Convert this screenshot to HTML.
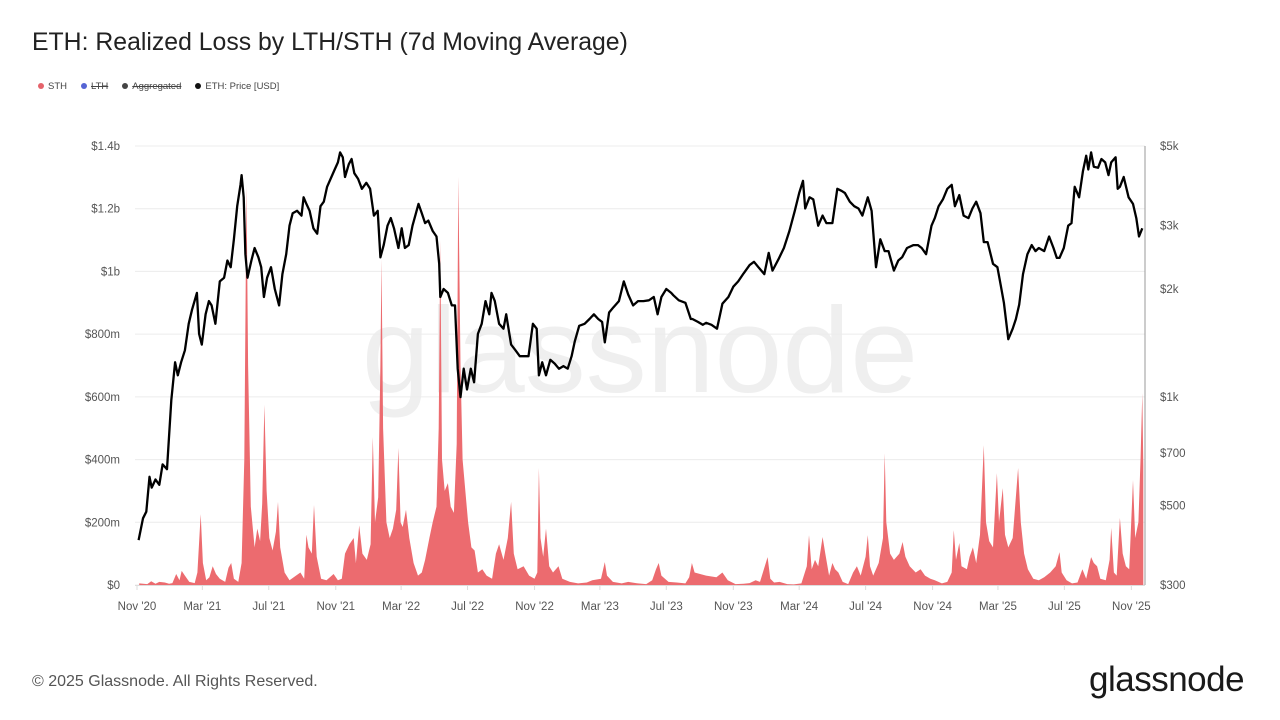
<!DOCTYPE html>
<html><head><meta charset="utf-8"><style>
html,body{margin:0;padding:0;background:#fff;}
body{width:1280px;height:720px;overflow:hidden;position:relative;font-family:"Liberation Sans",sans-serif;}
.t{position:absolute;white-space:nowrap;}
</style></head><body>
<div class="t" style="left:32px;top:29px;font-size:24.8px;color:#222;">ETH: Realized Loss by LTH/STH (7d Moving Average)</div>
<div style="position:absolute;left:38px;top:81px;font-size:9.5px;color:#444;display:flex;gap:14px;align-items:center;">
 <span><span style="display:inline-block;width:6px;height:6px;border-radius:3px;background:#e5636b;margin-right:4px;"></span>STH</span>
 <span><span style="display:inline-block;width:6px;height:6px;border-radius:3px;background:#5564d4;margin-right:4px;"></span><s>LTH</s></span>
 <span><span style="display:inline-block;width:6px;height:6px;border-radius:3px;background:#444;margin-right:4px;"></span><s>Aggregated</s></span>
 <span><span style="display:inline-block;width:6px;height:6px;border-radius:3px;background:#111;margin-right:4px;"></span>ETH: Price [USD]</span>
</div>
<svg id="chart" width="1280" height="720" style="position:absolute;left:0;top:0;" xmlns="http://www.w3.org/2000/svg">
<text x="640" y="392" text-anchor="middle" font-family="Liberation Sans,sans-serif" font-size="122" fill="#efefef">glassnode</text>
<g id="grid"></g><g id="area"></g><g id="line"></g><g id="axes"></g>
</svg>
<div class="t" style="left:32px;top:673px;font-size:16px;color:#555;">© 2025 Glassnode. All Rights Reserved.</div>
<div class="t" style="left:1089px;top:660px;font-size:35px;color:#1a1a1a;letter-spacing:-0.5px;">glassnode</div>
<script>
const lossDates=["2020-11-05","2020-11-20","2020-11-27","2020-12-05","2020-12-12","2020-12-22","2020-12-30","2021-01-05","2021-01-12","2021-01-18","2021-01-22","2021-01-28","2021-02-05","2021-02-15","2021-02-20","2021-02-26","2021-03-02","2021-03-08","2021-03-14","2021-03-20","2021-03-26","2021-04-02","2021-04-12","2021-04-18","2021-04-23","2021-04-28","2021-05-06","2021-05-12","2021-05-17","2021-05-21","2021-05-24","2021-05-29","2021-06-05","2021-06-10","2021-06-15","2021-06-19","2021-06-23","2021-06-27","2021-07-02","2021-07-08","2021-07-14","2021-07-18","2021-07-22","2021-07-30","2021-08-08","2021-08-20","2021-08-28","2021-09-04","2021-09-08","2021-09-12","2021-09-18","2021-09-22","2021-09-27","2021-10-05","2021-10-15","2021-10-28","2021-11-05","2021-11-12","2021-11-18","2021-11-26","2021-12-04","2021-12-08","2021-12-14","2021-12-20","2021-12-28","2022-01-04","2022-01-08","2022-01-12","2022-01-18","2022-01-22","2022-01-24","2022-01-27","2022-02-02","2022-02-08","2022-02-14","2022-02-20","2022-02-24","2022-02-28","2022-03-04","2022-03-10","2022-03-16","2022-03-24","2022-04-01","2022-04-08","2022-04-14","2022-04-22","2022-04-28","2022-05-05","2022-05-09","2022-05-12","2022-05-15","2022-05-20","2022-05-26","2022-05-31","2022-06-06","2022-06-11","2022-06-14","2022-06-18","2022-06-22","2022-06-28","2022-07-02","2022-07-08","2022-07-14","2022-07-20","2022-07-28","2022-08-05","2022-08-15","2022-08-22","2022-08-28","2022-09-05","2022-09-13","2022-09-19","2022-09-24","2022-10-01","2022-10-12","2022-10-22","2022-11-01","2022-11-06","2022-11-09","2022-11-12","2022-11-17","2022-11-22","2022-11-28","2022-12-05","2022-12-15","2022-12-22","2023-01-05","2023-01-20","2023-02-05","2023-02-15","2023-03-03","2023-03-10","2023-03-14","2023-03-25","2023-04-10","2023-04-22","2023-05-10","2023-05-25","2023-06-05","2023-06-12","2023-06-17","2023-06-22","2023-07-05","2023-07-20","2023-08-05","2023-08-12","2023-08-17","2023-08-22","2023-09-01","2023-09-12","2023-10-01","2023-10-12","2023-10-22","2023-11-05","2023-11-20","2023-12-01","2023-12-12","2023-12-20","2024-01-03","2024-01-08","2024-01-15","2024-01-25","2024-02-08","2024-02-20","2024-03-05","2024-03-15","2024-03-19","2024-03-24","2024-03-30","2024-04-05","2024-04-13","2024-04-18","2024-04-25","2024-05-01","2024-05-06","2024-05-12","2024-05-20","2024-05-30","2024-06-08","2024-06-15","2024-06-22","2024-07-01","2024-07-05","2024-07-09","2024-07-15","2024-07-25","2024-08-02","2024-08-05","2024-08-08","2024-08-15","2024-08-22","2024-09-01","2024-09-07","2024-09-12","2024-09-20","2024-10-01","2024-10-10","2024-10-18","2024-10-28","2024-11-05","2024-11-18","2024-11-28","2024-12-06","2024-12-10","2024-12-14","2024-12-20","2024-12-24","2025-01-03","2025-01-08","2025-01-14","2025-01-20","2025-01-27","2025-02-03","2025-02-07","2025-02-13","2025-02-20","2025-02-27","2025-03-03","2025-03-10","2025-03-14","2025-03-20","2025-03-28","2025-04-07","2025-04-12","2025-04-18","2025-04-25","2025-05-05","2025-05-15","2025-05-25","2025-06-05","2025-06-15","2025-06-22","2025-06-26","2025-07-05","2025-07-15","2025-07-25","2025-08-03","2025-08-10","2025-08-19","2025-08-24","2025-08-30","2025-09-05","2025-09-15","2025-09-22","2025-09-25","2025-09-30","2025-10-05","2025-10-11","2025-10-16","2025-10-22","2025-10-28","2025-11-04","2025-11-08","2025-11-14","2025-11-18","2025-11-21","2025-11-23"];
const lossValues=[5,3,12,4,10,8,4,6,35,15,45,30,10,6,40,226,70,15,25,60,35,20,10,55,70,20,10,70,400,1275,700,250,120,180,140,260,575,300,150,110,170,265,120,40,15,30,40,20,160,120,100,255,90,20,15,35,15,20,100,130,150,70,190,100,80,130,472,200,280,700,1040,500,200,150,180,240,437,200,185,240,150,70,30,40,80,150,200,250,500,1100,400,300,325,250,230,450,1302,700,400,280,200,120,110,40,50,30,20,100,130,80,150,265,100,50,60,30,20,40,373,150,90,180,60,40,60,20,10,5,8,15,20,73,30,10,5,10,5,3,15,50,70,30,10,8,5,25,70,40,35,30,25,40,15,3,4,6,15,10,89,20,8,10,3,2,5,60,159,50,80,60,153,100,30,70,50,40,10,3,40,60,30,90,159,60,30,70,150,420,200,100,80,100,137,90,60,40,50,30,20,15,5,10,40,175,80,134,60,50,90,120,70,160,446,200,140,120,357,200,309,160,120,150,373,200,100,50,20,15,25,40,60,105,40,15,5,8,50,20,89,70,60,20,15,80,182,40,30,214,100,60,50,335,150,200,408,612,380];
const priceDates=["2020-11-04","2020-11-12","2020-11-18","2020-11-24","2020-11-28","2020-12-05","2020-12-12","2020-12-18","2020-12-26","2021-01-03","2021-01-10","2021-01-15","2021-01-21","2021-01-28","2021-02-04","2021-02-10","2021-02-19","2021-02-23","2021-02-28","2021-03-07","2021-03-13","2021-03-18","2021-03-25","2021-04-02","2021-04-10","2021-04-16","2021-04-22","2021-04-28","2021-05-04","2021-05-10","2021-05-12","2021-05-16","2021-05-19","2021-05-23","2021-05-30","2021-06-05","2021-06-12","2021-06-17","2021-06-22","2021-06-28","2021-07-05","2021-07-12","2021-07-20","2021-07-26","2021-08-02","2021-08-08","2021-08-14","2021-08-22","2021-08-30","2021-09-03","2021-09-08","2021-09-14","2021-09-21","2021-09-28","2021-10-04","2021-10-10","2021-10-16","2021-10-24","2021-10-30","2021-11-05","2021-11-09","2021-11-14","2021-11-18","2021-11-25","2021-11-30","2021-12-05","2021-12-12","2021-12-19","2021-12-27","2022-01-03","2022-01-10","2022-01-17","2022-01-22","2022-01-28","2022-02-04","2022-02-10","2022-02-16","2022-02-24","2022-03-02","2022-03-08","2022-03-15","2022-03-22","2022-04-02","2022-04-08","2022-04-14","2022-04-20","2022-04-28","2022-05-05","2022-05-10","2022-05-12","2022-05-18","2022-05-26","2022-06-02","2022-06-08","2022-06-13","2022-06-18","2022-06-24","2022-06-30","2022-07-07","2022-07-13","2022-07-20","2022-07-27","2022-08-03","2022-08-10","2022-08-14","2022-08-20","2022-08-28","2022-09-05","2022-09-10","2022-09-19","2022-09-27","2022-10-05","2022-10-13","2022-10-21","2022-10-29","2022-11-05","2022-11-09","2022-11-15","2022-11-22","2022-11-30","2022-12-08","2022-12-16","2022-12-24","2023-01-01","2023-01-08","2023-01-14","2023-01-22","2023-02-01","2023-02-10","2023-02-18","2023-02-26","2023-03-05","2023-03-10","2023-03-18","2023-03-26","2023-04-05","2023-04-14","2023-04-22","2023-05-01","2023-05-10","2023-05-20","2023-05-30","2023-06-08","2023-06-15","2023-06-22","2023-07-01","2023-07-10","2023-07-14","2023-07-24","2023-08-05","2023-08-15","2023-08-18","2023-08-28","2023-09-06","2023-09-12","2023-09-22","2023-10-02","2023-10-12","2023-10-23","2023-11-01","2023-11-10","2023-11-20","2023-12-01","2023-12-09","2023-12-18","2023-12-28","2024-01-05","2024-01-12","2024-01-23","2024-02-02","2024-02-12","2024-02-22","2024-03-01","2024-03-08","2024-03-12","2024-03-20","2024-03-27","2024-04-05","2024-04-13","2024-04-20","2024-05-01","2024-05-10","2024-05-18","2024-05-24","2024-06-02","2024-06-10","2024-06-18","2024-06-25","2024-07-05","2024-07-12","2024-07-20","2024-07-28","2024-08-05","2024-08-12","2024-08-22","2024-08-30","2024-09-06","2024-09-15","2024-09-27","2024-10-05","2024-10-12","2024-10-20","2024-10-30","2024-11-05","2024-11-12","2024-11-20","2024-11-28","2024-12-06","2024-12-12","2024-12-20","2024-12-28","2025-01-06","2025-01-13","2025-01-20","2025-01-28","2025-02-03","2025-02-10","2025-02-20","2025-02-28","2025-03-06","2025-03-12","2025-03-20","2025-03-28","2025-04-03","2025-04-09","2025-04-16","2025-04-24","2025-05-02","2025-05-09","2025-05-15","2025-05-25","2025-06-03","2025-06-11","2025-06-17","2025-06-22","2025-06-30","2025-07-08","2025-07-14","2025-07-20","2025-07-28","2025-08-04","2025-08-10","2025-08-14","2025-08-19","2025-08-24","2025-09-01","2025-09-07","2025-09-14","2025-09-20","2025-09-25","2025-10-03","2025-10-07","2025-10-11","2025-10-18","2025-10-27","2025-11-04","2025-11-10","2025-11-15","2025-11-21","2025-11-24"];
const priceValues=[400,460,480,600,560,590,570,650,630,980,1250,1150,1250,1350,1600,1750,1950,1500,1400,1700,1850,1800,1600,2100,2150,2400,2300,2750,3400,3900,4150,3600,2500,2150,2400,2600,2450,2300,1900,2150,2300,2000,1800,2200,2500,3000,3250,3300,3200,3600,3450,3300,2950,2850,3400,3500,3850,4100,4300,4500,4800,4650,4100,4450,4600,4200,4050,3800,3950,3800,3200,3300,2450,2650,3000,3150,2950,2600,2950,2600,2650,3000,3450,3250,3050,3100,2900,2800,2350,1900,2000,1950,1800,1800,1200,1000,1200,1050,1200,1100,1500,1600,1850,1700,1950,1850,1600,1550,1700,1400,1350,1300,1300,1300,1600,1550,1150,1250,1150,1270,1240,1200,1220,1200,1300,1430,1580,1600,1650,1700,1650,1620,1420,1720,1780,1850,2100,1930,1800,1850,1850,1860,1900,1700,1900,2000,1950,1920,1860,1830,1650,1650,1620,1590,1610,1590,1550,1820,1900,2030,2100,2210,2330,2380,2290,2200,2520,2250,2420,2600,2900,3300,3700,4000,3350,3600,3550,3000,3200,3050,3050,3800,3750,3700,3500,3400,3350,3200,3600,3300,2300,2750,2550,2550,2250,2400,2450,2600,2650,2650,2600,2500,3000,3150,3400,3550,3800,3900,3400,3650,3200,3150,3350,3500,3250,2700,2700,2350,2300,2050,1830,1450,1550,1650,1810,2200,2500,2650,2550,2600,2550,2800,2600,2440,2440,2600,3000,3050,3850,3600,4250,4700,4300,4800,4380,4350,4600,4500,4150,4500,4650,3800,3850,4100,3600,3450,3150,2800,2950];
const leftTicks=[0,200,400,600,800,1000,1200,1400];
const leftTickLabels=["$0","$200m","$400m","$600m","$800m","$1b","$1.2b","$1.4b"];
const rightTicks=[300,500,700,1000,2000,3000,5000];
const rightTickLabels=["$300","$500","$700","$1k","$2k","$3k","$5k"];
const xTickDates=["2020-11-01","2021-03-01","2021-07-01","2021-11-01","2022-03-01","2022-07-01","2022-11-01","2023-03-01","2023-07-01","2023-11-01","2024-03-01","2024-07-01","2024-11-01","2025-03-01","2025-07-01","2025-11-01"];
const xTickLabels=["Nov '20","Mar '21","Jul '21","Nov '21","Mar '22","Jul '22","Nov '22","Mar '23","Jul '23","Nov '23","Mar '24","Jul '24","Nov '24","Mar '25","Jul '25","Nov '25"];

const NS="http://www.w3.org/2000/svg";
const T0=Date.UTC(2020,10,1), YEAR=365.25*864e5;
const X0=137, PXY=198.9, Y0=585, Y1=146;
function xs(d){const p=d.split("-").map(Number);return X0+(Date.UTC(p[0],p[1]-1,p[2])-T0)/YEAR*PXY;}
function yl(v){return Y0-(v/1400)*(Y0-Y1);}
function yr(v){return Y0-Math.log(v/300)/Math.log(5000/300)*(Y0-Y1);}
function mk(tag,attrs,parent){const e=document.createElementNS(NS,tag);for(const k in attrs)e.setAttribute(k,attrs[k]);parent.appendChild(e);return e;}
const grid=document.getElementById("grid"),axes=document.getElementById("axes");
leftTicks.forEach((v,i)=>{
  const l=mk("line",{x1:135,x2:1145,y1:yl(v),y2:yl(v),stroke:"#ececec","stroke-width":1},grid);
  
  
  const t=mk("text",{x:120,y:yl(v)+4,"text-anchor":"end","font-size":11.5,fill:"#555","font-family":"Liberation Sans,sans-serif"},axes);
  t.textContent=leftTickLabels[i];
  
  
});
rightTicks.forEach((v,i)=>{
  const t=mk("text",{x:1160,y:yr(v)+4,"font-size":11.5,fill:"#555","font-family":"Liberation Sans,sans-serif"},axes);
  t.textContent=rightTickLabels[i];
  
  
});
xTickDates.forEach((d,i)=>{
  const x=xs(d);
  const tk=mk("line",{x1:x,x2:x,y1:585,y2:590,stroke:"#ddd"},axes);
  
  
  const t=mk("text",{x:x,y:610,"text-anchor":"middle","font-size":11.5,fill:"#555","font-family":"Liberation Sans,sans-serif"},axes);
  t.textContent=xTickLabels[i];
  
  
});
const ax=mk("line",{x1:135,x2:1145,y1:585.5,y2:585.5,stroke:"#ddd"},axes);


const ra=mk("line",{x1:1145,x2:1145,y1:146,y2:585,stroke:"#999","stroke-width":1},axes);


let pts=[[xs(lossDates[0]),Y0]];
lossDates.forEach((d,i)=>pts.push([xs(d),yl(lossValues[i])]));
pts.push([xs(lossDates[lossDates.length-1]),Y0]);
const area=mk("polygon",{points:pts.map(p=>p[0].toFixed(1)+","+p[1].toFixed(1)).join(" "),fill:"#ec6b6f"},document.getElementById("area"));


const pl=mk("polyline",{points:priceDates.map((d,i)=>xs(d).toFixed(1)+","+yr(priceValues[i]).toFixed(1)).join(" "),fill:"none",stroke:"#000","stroke-width":2.3,"stroke-linejoin":"round"},document.getElementById("line"));


</script>
</body></html>
